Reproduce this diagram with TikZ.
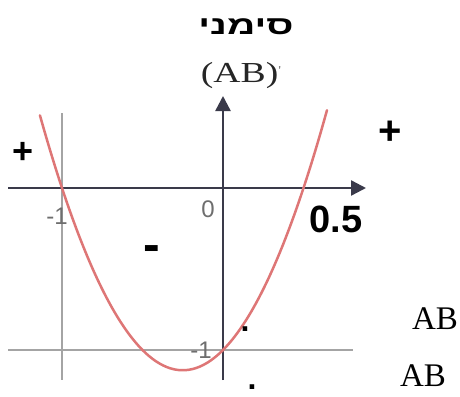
\documentclass[tikz,border=0pt]{standalone}
\usepackage{fontspec}
\setmainfont{Liberation Serif}
\setsansfont{Liberation Sans}
\newfontfamily\hebfont[Script=Hebrew,FakeStretch=1.5]{Liberation Sans}
\newfontfamily\wideserif[FakeStretch=1.3]{Liberation Serif}
\TeXXeTstate=1
\usetikzlibrary{arrows.meta}
\definecolor{colEje}{HTML}{3A3A4A}
\definecolor{colCurva}{HTML}{DE7676}
\definecolor{colGuia}{HTML}{A4A4A4}
\definecolor{colMarca}{HTML}{6E6E6E}
\definecolor{colTexto}{HTML}{262626}

\begin{document}
\begin{tikzpicture}[
        x=1pt, y=-1pt,
        eje/.style={line width=2.4pt, draw=colEje, -{Triangle[length=15pt,width=15pt]}},
        guia/.style={line width=1.3pt, draw=colGuia},
        curva/.style={line width=2.5pt, draw=colCurva, line cap=round},
        signo/.style={font=\sffamily\bfseries\fontsize{38}{40}\selectfont, inner sep=0pt},
        marca/.style={font=\sffamily\fontsize{24}{26}\selectfont, text=colMarca, inner sep=0pt},
        texto/.style={font=\fontsize{33}{36}\selectfont, inner sep=0pt},
        punto/.style={font=\sffamily\bfseries\fontsize{32}{34}\selectfont, inner sep=0pt}
    ]
        \useasboundingbox[fill=white] (0,0) rectangle (460,396);

        % Titulo
        \node[inner sep=0pt, font=\hebfont\bfseries\fontsize{26}{28}\selectfont] (titulo) at (246,27) {\beginR סימני\endR};
        \node[inner sep=0pt, text=colTexto] (derivada) at (241,76) {\wideserif\fontsize{29}{31}\selectfont (AB)\textcolor{colMarca}{\fontsize{12}{12}\selectfont\raisebox{8pt}{'}}};

        % Lineas guia
        \coordinate (guiaVsup) at (62,113);
        \coordinate (guiaVinf) at (62,380);
        \coordinate (guiaHizq) at (8,350);
        \coordinate (guiaHder) at (353,350);
        \draw[guia] (guiaVsup) -- (guiaVinf);
        \draw[guia] (guiaHizq) -- (guiaHder);

        % Ejes
        \coordinate (ejeXini) at (8,188);
        \coordinate (ejeXfin) at (366,188);
        \coordinate (ejeYini) at (223,380);
        \coordinate (ejeYfin) at (223,96);
        \draw[eje] (ejeXini) -- (ejeXfin);
        \draw[eje] (ejeYini) -- (ejeYfin);

        % Parabola 2x^2+x-1
        \draw[curva] plot[domain=-1.137:0.646, samples=80, smooth] ({223+161*\x},{188-162*(2*\x*\x+\x-1)});

        % Marcas
        \node[marca] (menosUnoX) at (57,216) {-1};
        \node[marca] (cero) at (208,209) {0};
        \node[marca] (menosUnoY) at (201,350) {-1};
        \node[signo] (medio) at (336,219) {0.5};

        % Signos
        \node[signo, font=\sffamily\bfseries\fontsize{36}{38}\selectfont] (masIzq) at (23,153) {+};
        \node[signo, font=\sffamily\bfseries\fontsize{40}{42}\selectfont] (masDer) at (390,133) {+};
        \node[signo, anchor=base, font=\sffamily\bfseries\fontsize{50}{52}\selectfont] (menos) at (152,261) {-};

        % AB
        \node[punto] (puntoA) at (245,329) {.};
        \node[texto] (textoA) at (435,319) {AB};
        \node[punto] (puntoB) at (252,387) {.};
        \node[texto] (textoB) at (423,376) {AB};
    \end{tikzpicture}
\end{document}
